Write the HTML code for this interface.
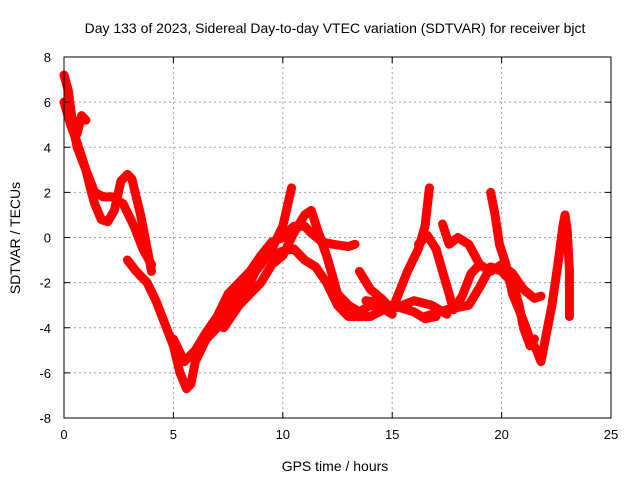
<!DOCTYPE html>
<html><head><meta charset="utf-8"><style>
body{margin:0;background:#fff}
svg{display:block;font-family:"Liberation Sans",sans-serif}
</style></head><body>
<svg id="chart" width="640" height="480">
<text x="335" y="33" text-anchor="middle" font-size="14">Day 133 of 2023, Sidereal Day-to-day VTEC variation (SDTVAR) for receiver bjct</text>
<text x="335" y="471" text-anchor="middle" font-size="14">GPS time / hours</text>
<text x="0" y="0" transform="translate(20,238) rotate(-90)" text-anchor="middle" font-size="14">SDTVAR / TECUs</text>
<g id="grid"></g><g id="marks"></g><g id="axes"></g>
</svg>
<script>
const xTicks=[0,5,10,15,20,25];
const yTicks=[-8,-6,-4,-2,0,2,4,6,8];
const track1=[[0,7.2],[0.2,6.5],[0.4,5],[0.6,4],[1,3],[1.2,2.2],[1.4,1.5],[1.7,0.8],[2,0.7],[2.3,1.2],[2.6,2.5],[2.9,2.8],[3.1,2.6],[3.3,1.8],[3.5,1],[3.8,-0.5],[4,-1.5]];
const track2=[[0,6],[0.3,5],[0.6,4.2],[1,3],[1.4,2],[1.8,1.8],[2.2,1.8],[2.7,1.5],[3.2,0.5],[3.6,-0.5],[4,-1.2]];
const track3=[[2.9,-1],[3.3,-1.5],[3.8,-2],[4.2,-2.8],[4.6,-3.8],[5,-4.8],[5.3,-6],[5.6,-6.7],[5.8,-6.5],[6,-5.5],[6.5,-4.5],[7,-4],[7.5,-3],[8,-2.3],[8.5,-1.8],[9,-1.2],[9.5,-0.5],[10,0.5],[10.4,2.2]];
const track4=[[0.1,5.8],[0.4,5.2],[0.6,4.6],[0.8,5.4],[1,5.2]];
const track5=[[5,-4.5],[5.5,-5.5],[6,-5],[6.5,-4.2],[7,-3.5],[7.5,-2.5],[8,-2],[8.5,-1.5],[9,-0.8],[9.5,-0.2],[10,0],[10.5,0.5],[11,0.5],[11.3,0.2],[11.8,-0.2],[12.3,-0.3],[13,-0.4],[13.3,-0.3]];
const track6=[[6.5,-4.5],[7.5,-3],[8,-2.5],[8.5,-2],[9,-1],[9.5,-0.8],[10,-0.6],[10.5,-0.5],[11,-1],[11.5,-1.3],[12,-2],[12.5,-3],[13,-3.5],[14,-3.5],[15,-3],[16,-3.3],[16.5,-3.6],[17,-3.5]];
const track7=[[7.3,-4],[8,-3],[8.5,-2.5],[9,-2],[9.5,-1.2],[10,-0.8],[10.5,0.2],[11,1],[11.3,1.2],[11.6,0.3],[12,-0.8],[12.3,-1.8],[12.5,-2.5],[13,-3],[13.5,-3.3],[14,-3],[14.5,-3.1],[15,-3.4]];
const track8=[[13.5,-1.5],[14,-2.3],[14.5,-2.7],[15,-3.2],[15.7,-1.5],[16.2,-0.5],[16.5,0.5],[16.7,2.2]];
const track9=[[16.2,-0.3],[16.6,0.1],[17,-0.5],[17.3,-1.5],[17.6,-2.5],[17.8,-3.2],[18.2,-2.6],[18.6,-1.6],[18.9,-1.3]];
const track10=[[17.3,0.6],[17.6,-0.3],[18,0],[18.5,-0.3],[19,-1.2],[19.5,-1.5],[20,-1.2],[20.5,-1.6],[21,-2.3],[21.5,-2.7],[21.8,-2.6]];
const track11=[[19.5,2],[19.7,1],[19.9,-0.3],[20.2,-1.2],[20.5,-2.5],[21,-3.7],[21.3,-4.5],[21.6,-5],[21.8,-5.5],[22,-4.5],[22.3,-3],[22.6,-1],[22.8,0.5],[22.9,1],[23,0.3],[23.1,-1.5],[23.1,-3.5]];
const track12=[[16.5,-3.5],[17.5,-3.2],[18.5,-3],[19,-2.2],[19.5,-1.3],[20,-1.5],[20.5,-2],[20.8,-3],[21,-4],[21.3,-4.8],[21.5,-4.5]];
const track13=[[13.8,-2.8],[14.5,-2.9],[15.2,-3.1],[16,-2.8],[16.8,-3],[17.5,-3.4]];
const tracks=[track1,track2,track3,track4,track5,track6,track7,track8,track9,track10,track11,track12,track13];
const X0=64,X1=611,Y0=418,Y1=57;
const sx=h=>X0+(h-0)/(25-0)*(X1-X0);
const sy=v=>Y0-(v+8)/16*(Y0-Y1);
const NS="http://www.w3.org/2000/svg";
const grid=document.getElementById('grid'),marks=document.getElementById('marks'),axes=document.getElementById('axes');
function mk(tag,attrs,parent){const e=document.createElementNS(NS,tag);for(const k in attrs)e.setAttribute(k,attrs[k]);parent.appendChild(e);return e;}
xTicks.forEach(t=>{
 const x=sx(t);
 const g=mk('line',{x1:x,x2:x,y1:Y1,y2:Y0,stroke:'#a0a0a0','stroke-dasharray':'2,3'},grid);
 
 
 const l=mk('text',{x:x,y:Y0+21,'text-anchor':'middle','font-size':'13'},axes);
 l.textContent=t;
 
 
 mk('line',{x1:x,x2:x,y1:Y0,y2:Y0-6,stroke:'#000'},axes);
 mk('line',{x1:x,x2:x,y1:Y1,y2:Y1+6,stroke:'#000'},axes);
});
yTicks.forEach(t=>{
 const y=sy(t);
 const g=mk('line',{x1:X0,x2:X1,y1:y,y2:y,stroke:'#a0a0a0','stroke-dasharray':'2,3'},grid);
 
 
 const l=mk('text',{x:X0-13,y:y+5,'text-anchor':'end','font-size':'13'},axes);
 l.textContent=t;
 
 
 mk('line',{x1:X0,x2:X0+6,y1:y,y2:y,stroke:'#000'},axes);
 mk('line',{x1:X1,x2:X1-6,y1:y,y2:y,stroke:'#000'},axes);
});
const fr=mk('rect',{x:X0,y:Y1,width:X1-X0,height:Y0-Y1,fill:'none',stroke:'#000'},axes);


tracks.forEach((tr,i)=>{
 const p=mk('polyline',{points:tr.map(d=>sx(d[0])+','+sy(d[1])).join(' '),fill:'none',stroke:'#ff0000','stroke-width':'9','stroke-linejoin':'round','stroke-linecap':'round'},marks);
 
 
});
</script>
</body></html>
